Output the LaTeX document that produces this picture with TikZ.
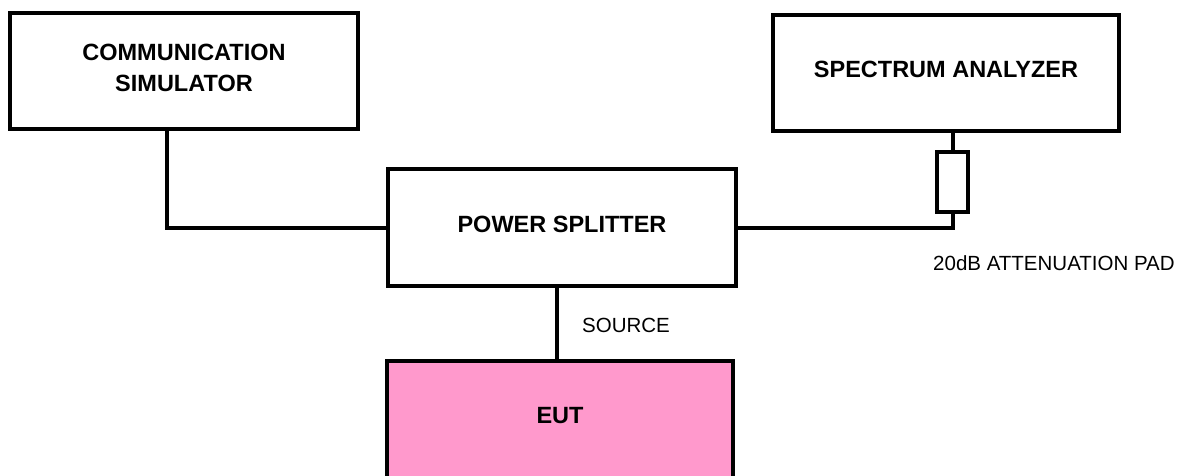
\documentclass[tikz,border=0pt]{standalone}
\usepackage{fontspec}
\setmainfont{Liberation Sans}
\definecolor{eutpink}{RGB}{255,153,204}
\begin{document}
\begin{tikzpicture}[x=1pt,y=-1pt,
  wire/.style={line width=4pt,line cap=rect},
  unitbox/.style={draw,line width=4pt,fill=white,minimum width=346pt,minimum height=116pt,
    inner sep=0pt,align=center,text depth=7pt,font=\fontsize{23.5}{31}\selectfont\bfseries},
  padbox/.style={draw,line width=4pt,fill=white,minimum width=31pt,minimum height=60pt,inner sep=0pt},
  lbl/.style={font=\fontsize{20.5}{24}\selectfont,inner sep=0pt,anchor=west}]
\useasboundingbox (0,0) rectangle (1187,475);
\clip (0,0) rectangle (1187,475);
\node[unitbox,minimum width=348pt] (comm) at (184,71) {COMMUNICATION\\SIMULATOR};
\node[unitbox] (sa) at (946,73) {SPECTRUM ANALYZER};
\node[unitbox,minimum width=348pt,minimum height=117pt] (ps) at (562,227.5) {POWER SPLITTER};
\node[unitbox,fill=eutpink,minimum height=130pt,text depth=22pt] (eut) at (560,426) {EUT};
\node[padbox] (pad) at (952.5,182) {};
\draw[wire] ([xshift=-17pt]comm.south) |- (ps.west);
\draw[wire] (ps.east) -| (pad.south);
\draw[wire] (pad.north) -- (pad.north |- sa.south);
\draw[wire] ([xshift=-5pt]ps.south) -- ([xshift=-5pt]ps.south |- eut.north);
\node[lbl] (src) at (582,325) {SOURCE};
\node[lbl] (padlbl) at (933,263) {20dB ATTENUATION PAD};
\end{tikzpicture}
\end{document}
